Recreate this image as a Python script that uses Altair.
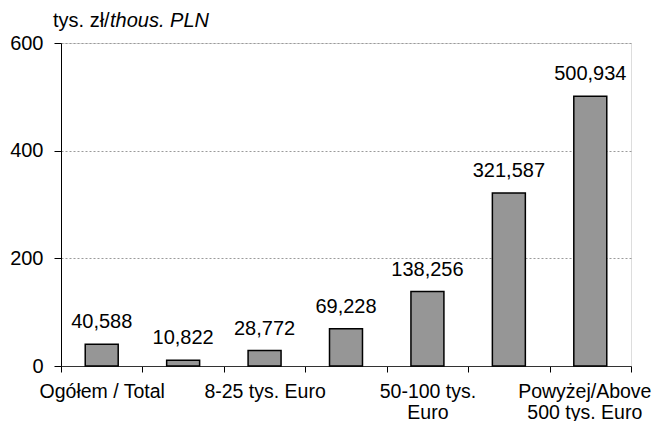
import altair as alt
import pandas as pd

categories = [
    "Ogółem / Total",
    "Do/Up to 8 tys. Euro",
    "8-25 tys. Euro",
    "25-50 tys. Euro",
    "50-100 tys. Euro",
    "100-500 tys. Euro",
    "Powyżej/Above 500 tys. Euro",
]
values = [40.588, 10.822, 28.772, 69.228, 138.256, 321.587, 500.934]
# axis labels shown under the bars (others hidden, as in the original)
shown_labels = {
    "Ogółem / Total": ["Ogółem / Total"],
    "8-25 tys. Euro": ["8-25 tys. Euro"],
    "50-100 tys. Euro": ["50-100 tys.", "Euro"],
    "Powyżej/Above 500 tys. Euro": ["Powyżej/Above", "500 tys. Euro"],
}
last_cat = categories[-1]
y_ticks = [0, 200, 400, 600]
unit_normal = "tys. zł/"
unit_italic = "thous. PLN"

FONT = "Liberation Sans"
FS = 20

df = pd.DataFrame({"cat": categories, "value": values})

parts = []
for k, v in shown_labels.items():
    arr = "[" + ",".join("'" + s + "'" for s in v) + "]"
    parts.append(f"datum.value == '{k}' ? {arr}")
label_expr = " : ".join(parts) + " : ''"

x_enc = alt.X(
    "cat:N",
    sort=categories,
    title=None,
    scale=alt.Scale(paddingInner=0, paddingOuter=0),
    axis=alt.Axis(
        labelExpr=label_expr,
        labelAngle=0,
        labelFont=FONT,
        labelFontSize=19.5,
        labelColor="black",
        labelLineHeight=21,
        labelPadding=10,
        labelOverlap=False,
        labelBound=False,
        labelOffset={"condition": {"test": f"datum.value == '{last_cat}'", "value": -6}, "value": 0},
        tickBand="extent",
        tickSize=6,
        tickColor="black",
        domainColor="#333333",
        grid=False,
    ),
)
y_enc = alt.Y(
    "value:Q",
    title=None,
    scale=alt.Scale(domain=[0, 600], nice=False),
    axis=alt.Axis(
        values=y_ticks,
        labelFont=FONT,
        labelFontSize=FS,
        labelColor="black",
        labelPadding=11,
        tickSize=7,
        tickColor="black",
        domainColor="black",
        grid=True,
        gridColor="#9a9a9a",
        gridDash=[2, 2],
        gridWidth=1,
    ),
)

base = alt.Chart(df)
bars = base.mark_bar(
    width=alt.RelativeBandSize(0.405),
    color="#969696",
    stroke="black",
    strokeWidth=1.5,
).encode(x=x_enc, y=y_enc)

labels = base.transform_calculate(
    lab="replace(format(datum.value, '.3f'), '.', ',')"
).mark_text(
    font=FONT, fontSize=FS, color="black", baseline="alphabetic", dy=-16
).encode(x=alt.X("cat:N", sort=categories), y="value:Q", text="lab:N")

unit_df = pd.DataFrame({"t": [unit_normal]})
unit1 = alt.Chart(unit_df).mark_text(
    font=FONT, fontSize=FS, color="black", align="left", baseline="alphabetic"
).encode(x=alt.value(-8), y=alt.value(-16), text="t:N")
unit_df2 = pd.DataFrame({"t": [unit_italic]})
unit2 = alt.Chart(unit_df2).mark_text(
    font=FONT, fontSize=FS, fontStyle="italic", color="black", align="left", baseline="alphabetic"
).encode(x=alt.value(49), y=alt.value(-16), text="t:N")

chart = (
    alt.layer(bars, labels, unit1, unit2)
    .properties(
        width=570,
        height=323,
        autosize=alt.AutoSizeParams(type="none"),
        padding={"left": 53, "top": 35, "right": 21, "bottom": 55},
    )
    .configure_view(stroke="#808080", strokeWidth=1.2)
    .configure(background="white")
)

chart.save("out.html", embed_options={"renderer": "svg", "actions": False})
